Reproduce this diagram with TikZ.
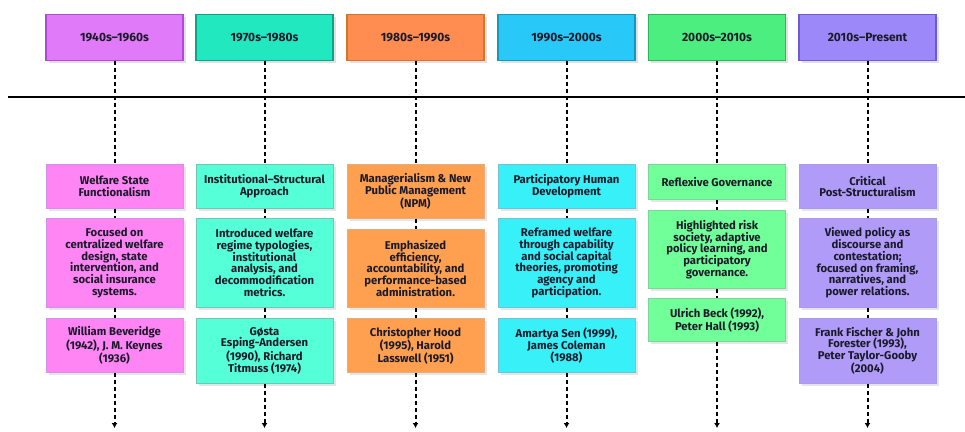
\documentclass[tikz,border=0pt]{standalone}
\usepackage{fontspec}
\setmainfont{Fira Sans}
\usetikzlibrary{arrows.meta,shadows}

\definecolor{magHead}{HTML}{E07AF8}
\definecolor{magLine}{HTML}{B048D8}
\definecolor{magCard}{HTML}{FF85F5}
\definecolor{teaHead}{HTML}{22E8C0}
\definecolor{teaLine}{HTML}{12A088}
\definecolor{teaCard}{HTML}{55FFD8}
\definecolor{oraHead}{HTML}{FF8C50}
\definecolor{oraLine}{HTML}{D07828}
\definecolor{oraCard}{HTML}{FFA050}
\definecolor{cyaHead}{HTML}{28C8F8}
\definecolor{cyaLine}{HTML}{1898B8}
\definecolor{cyaCard}{HTML}{38F0F8}
\definecolor{grnHead}{HTML}{4CEE80}
\definecolor{grnLine}{HTML}{28B858}
\definecolor{grnCard}{HTML}{70FF98}
\definecolor{vioHead}{HTML}{9C88F8}
\definecolor{vioLine}{HTML}{7058D8}
\definecolor{vioCard}{HTML}{B09CF8}
\definecolor{inkText}{HTML}{1A1A2A}

\begin{document}
\begin{tikzpicture}[x=1pt,y=-1pt,
  period/.style={draw=#1Line, fill=#1Head, line width=1.3pt, anchor=north,
    minimum width=137pt, minimum height=46pt, text=inkText,
    font=\fontsize{12}{14}\selectfont\bfseries,
    drop shadow={shadow xshift=2.5pt, shadow yshift=-2.5pt, fill=black!12, opacity=1}},
  card/.style={draw=#1Line!60, fill=#1Card, line width=0.8pt, anchor=north,
    minimum width=137pt, align=center, text=inkText, inner sep=2pt,
    font=\fontsize{11.3}{11.7}\selectfont\bfseries,
    drop shadow={shadow xshift=2.5pt, shadow yshift=-2.5pt, fill=black!10, opacity=1}},
  link/.style={black, line width=2pt, dash pattern=on 4pt off 3pt},
  tail/.style={link, -{Latex[length=5pt,width=6pt]}}]

  \useasboundingbox (0,0) rectangle (965,431);

  % header row
  \node[period=mag] (hA) at (114.5,14) {1940s–1960s};
  \node[period=tea] (hB) at (264.5,14) {1970s–1980s};
  \node[period=ora] (hC) at (415.5,14) {1980s–1990s};
  \node[period=cya] (hD) at (566.5,14) {1990s–2000s};
  \node[period=grn] (hE) at (717,14) {2000s–2010s};
  \node[period=vio] (hF) at (867.5,14) {2010s–Present};

  % timeline
  \coordinate (tlL) at (8,97);
  \coordinate (tlR) at (965,97);
  \draw[line width=1.6pt] (tlL) -- (tlR);

  % approaches
  \node[card=mag, minimum height=44pt] (tA) at (114.5,164) {Welfare State\\Functionalism};
  \node[card=tea, minimum height=44pt] (tB) at (264.5,164) {Institutional–Structural\\Approach};
  \node[card=ora, minimum height=54pt] (tC) at (415.5,164) {Managerialism \& New\\Public Management\\(NPM)};
  \node[card=cya, minimum height=44pt] (tD) at (566.5,164) {Participatory Human\\Development};
  \node[card=grn, minimum height=35pt] (tE) at (717,164) {Reflexive Governance};
  \node[card=vio, minimum height=44pt] (tF) at (867.5,164) {Critical\\Post-Structuralism};

  % descriptions
  \node[card=mag, minimum height=89pt] (dA) at (114.5,218) {Focused on\\centralized welfare\\design, state\\intervention, and\\social insurance\\systems.};
  \node[card=tea, minimum height=89pt] (dB) at (264.5,218) {Introduced welfare\\regime typologies,\\institutional\\analysis, and\\decommodification\\metrics.};
  \node[card=ora, minimum height=78pt] (dC) at (415.5,229) {Emphasized\\efficiency,\\accountability, and\\performance-based\\administration.};
  \node[card=cya, minimum height=89pt] (dD) at (566.5,218) {Reframed welfare\\through capability\\and social capital\\theories, promoting\\agency and\\participation.};
  \node[card=grn, minimum height=78pt] (dE) at (717,210) {Highlighted risk\\society, adaptive\\policy learning, and\\participatory\\governance.};
  \node[card=vio, minimum height=89pt] (dF) at (867.5,218) {Viewed policy as\\discourse and\\contestation;\\focused on framing,\\narratives, and\\power relations.};

  % key authors
  \node[card=mag, minimum height=54pt] (rA) at (114.5,318) {William Beveridge\\(1942), J. M. Keynes\\(1936)};
  \node[card=tea, minimum height=65pt] (rB) at (264.5,318) {Gøsta\\Esping-Andersen\\(1990), Richard\\Titmuss (1974)};
  \node[card=ora, minimum height=54pt] (rC) at (415.5,318) {Christopher Hood\\(1995), Harold\\Lasswell (1951)};
  \node[card=cya, minimum height=54pt] (rD) at (566.5,318) {Amartya Sen (1999),\\James Coleman\\(1988)};
  \node[card=grn, minimum height=43pt] (rE) at (717,298) {Ulrich Beck (1992),\\Peter Hall (1993)};
  \node[card=vio, minimum height=65pt] (rF) at (867.5,318) {Frank Fischer \& John\\Forester (1993),\\Peter Taylor-Gooby\\(2004)};

  % arrow ends
  \coordinate (eA) at (114.5,428);
  \coordinate (eB) at (264.5,428);
  \coordinate (eC) at (415.5,428);
  \coordinate (eD) at (566.5,428);
  \coordinate (eE) at (717,428);
  \coordinate (eF) at (867.5,428);

  % dashed stems
  \draw[link] (hA) -- (tA);  \draw[link] (tA) -- (dA);  \draw[link] (dA) -- (rA);  \draw[tail] (rA) -- (eA);
  \draw[link] (hB) -- (tB);  \draw[link] (tB) -- (dB);  \draw[link] (dB) -- (rB);  \draw[tail] (rB) -- (eB);
  \draw[link] (hC) -- (tC);  \draw[link] (tC) -- (dC);  \draw[link] (dC) -- (rC);  \draw[tail] (rC) -- (eC);
  \draw[link] (hD) -- (tD);  \draw[link] (tD) -- (dD);  \draw[link] (dD) -- (rD);  \draw[tail] (rD) -- (eD);
  \draw[link] (hE) -- (tE);  \draw[link] (tE) -- (dE);  \draw[link] (dE) -- (rE);  \draw[tail] (rE) -- (eE);
  \draw[link] (hF) -- (tF);  \draw[link] (tF) -- (dF);  \draw[link] (dF) -- (rF);  \draw[tail] (rF) -- (eF);
\end{tikzpicture}
\end{document}
